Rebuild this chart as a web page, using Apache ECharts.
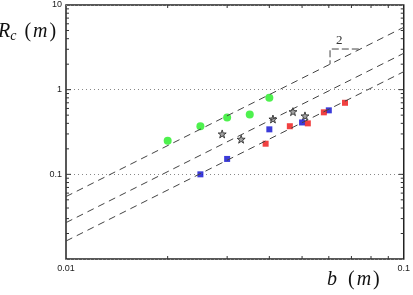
<!DOCTYPE html>
<html>
<head>
<meta charset="utf-8">
<script src="https://cdn.jsdelivr.net/npm/echarts@6/dist/echarts.min.js"></script>
<style>
  html, body { margin: 0; padding: 0; background: #fff; }
  #chart { width: 413px; height: 295px; }
</style>
</head>
<body>
<div id="chart"></div>
<script>
// measured points, b (m) vs Rc (m)
const greenX = [0.020, 0.025, 0.030, 0.035, 0.040]
const greenY = [0.25, 0.37, 0.47, 0.51, 0.80]
const starX = [0.029, 0.033, 0.041, 0.047, 0.051]
const starY = [0.30, 0.26, 0.45, 0.55, 0.49]
const blueX = [0.025, 0.030, 0.040, 0.050, 0.060]
const blueY = [0.100, 0.152, 0.34, 0.41, 0.57]
const redX = [0.039, 0.046, 0.052, 0.058, 0.067]
const redY = [0.23, 0.37, 0.40, 0.54, 0.70]

// slope-2 guide lines (endpoints at b = 0.01 and b = 0.1)
const guideX = [0.01, 0.1]
const upperY = [0.0546, 5.46]
const middleY = [0.0269, 2.69]
const lowerY = [0.0163, 1.63]

// slope triangle
const triX = [0.0736, 0.0605, 0.0605]
const triY = [3.02, 3.02, 2.0]

// minor ticks
const xMinor = [0.02, 0.03, 0.04, 0.05, 0.06, 0.07, 0.08, 0.09]
const yMinor = [0.02, 0.03, 0.04, 0.05, 0.06, 0.07, 0.08, 0.09,
  0.2, 0.3, 0.4, 0.5, 0.6, 0.7, 0.8, 0.9,
  2, 3, 4, 5, 6, 7, 8, 9]
const yMajor = [0.1, 1]

const xMin = 0.01, xMax = 0.1, yMin = 0.01, yMax = 10
const starPath = 'path://M0,-10L2.35,-3.24L9.51,-3.09L3.8,1.24L5.88,8.09L0,4L-5.88,8.09L-3.8,1.24L-9.51,-3.09L-2.35,-3.24Z'

const zip = (xs, ys) => xs.map((x, i) => [x, ys[i]])

function tickLine(x1, y1, x2, y2) {
  return { type: 'line', shape: { x1, y1, x2, y2 }, style: { stroke: '#333', lineWidth: 1 } }
}

const serif = 'Liberation Serif'
const mathRich = {
  i: { fontFamily: serif, fontStyle: 'italic', fontSize: 20, fill: '#111' },
  s: { fontFamily: serif, fontStyle: 'italic', fontSize: 14, fill: '#111', padding: [9, 8, 0, 0] },
  n: { fontFamily: serif, fontSize: 20, fill: '#111' },
  g: { fontFamily: serif, fontSize: 20, fill: '#111', padding: [0, 6, 0, 0] },
  m: { fontFamily: serif, fontStyle: 'italic', fontSize: 20, fill: '#111', padding: [0, 2, 0, 2] }
}

const chart = echarts.init(document.getElementById('chart'))
chart.setOption({
  animation: false,
  grid: {
    left: 66, right: 8, top: 5, bottom: 36,
    show: true, borderColor: '#222', borderWidth: 1.5, backgroundColor: '#fff'
  },
  xAxis: {
    type: 'log', logBase: 10, min: xMin, max: xMax,
    axisLine: { show: false },
    axisTick: { show: false },
    splitLine: { show: false },
    axisLabel: {
      fontSize: 9, color: '#222', margin: 5, fontFamily: 'Liberation Sans',
      formatter: v => String(+v.toPrecision(3))
    }
  },
  yAxis: {
    type: 'log', logBase: 10, min: yMin, max: yMax,
    axisLine: { show: false },
    axisTick: { show: false },
    splitLine: { show: true, lineStyle: { type: [1, 3], color: '#888', width: 1 } },
    axisLabel: {
      fontSize: 9, color: '#222', margin: 4, fontFamily: 'Liberation Sans',
      formatter: v => (Math.abs(v - 0.01) < 1e-9 ? '' : String(+v.toPrecision(3)))
    }
  },
  graphic: [
    {
      type: 'text', left: -2, top: 22,
      style: { text: '{i|R}{s|c}{n|(}{m|m}{n|)}', rich: mathRich }
    },
    {
      type: 'text', left: 327, top: 270,
      style: { text: '{i|b}{g| }{n|(}{m|m}{n|)}', rich: mathRich }
    },
    {
      type: 'text', left: 336, top: 34,
      style: { text: '2', fontFamily: serif, fontSize: 13, fill: '#333' }
    }
  ],
  series: [
    {
      type: 'line', data: zip(guideX, upperY), symbol: 'none', silent: true,
      lineStyle: { color: '#444', width: 1, type: [7, 5] }
    },
    {
      type: 'line', data: zip(guideX, middleY), symbol: 'none', silent: true,
      lineStyle: { color: '#444', width: 1, type: [7, 5] }
    },
    {
      type: 'line', data: zip(guideX, lowerY), symbol: 'none', silent: true,
      lineStyle: { color: '#444', width: 1, type: [7, 5] }
    },
    {
      type: 'line', data: zip(triX, triY), symbol: 'none', silent: true,
      lineStyle: { color: '#444', width: 1, type: [7, 3] }
    },
    {
      type: 'scatter', data: zip(greenX, greenY), symbol: 'circle', symbolSize: 8,
      itemStyle: { color: '#22ee22' }
    },
    {
      type: 'scatter', data: zip(starX, starY), symbol: starPath, symbolSize: 8,
      itemStyle: { color: '#8a8a8a', borderColor: '#222', borderWidth: 1 }
    },
    {
      type: 'scatter', data: zip(blueX, blueY), symbol: 'rect', symbolSize: 6,
      itemStyle: { color: '#0a0ad0' }
    },
    {
      type: 'scatter', data: zip(redX, redY), symbol: 'rect', symbolSize: 6,
      itemStyle: { color: '#ee1111' }
    },
    {
      // x minor ticks on bottom and top
      type: 'custom', silent: true, clip: false,
      data: xMinor.map(v => [v, 1]),
      renderItem(params, api) {
        const v = api.value(0)
        const b = api.coord([v, yMin])
        const t = api.coord([v, yMax])
        return {
          type: 'group',
          children: [tickLine(b[0], b[1], b[0], b[1] - 3), tickLine(t[0], t[1], t[0], t[1] + 3)]
        }
      }
    },
    {
      // y ticks on left and right
      type: 'custom', silent: true, clip: false,
      data: yMinor.map(v => [0.03, v, 3]).concat(yMajor.map(v => [0.03, v, 5])),
      renderItem(params, api) {
        const v = api.value(1)
        const len = api.value(2)
        const l = api.coord([xMin, v])
        const r = api.coord([xMax, v])
        return {
          type: 'group',
          children: [tickLine(l[0], l[1], l[0] + len, l[1]), tickLine(r[0], r[1], r[0] - len, r[1])]
        }
      }
    }
  ]
})
</script>
</body>
</html>
